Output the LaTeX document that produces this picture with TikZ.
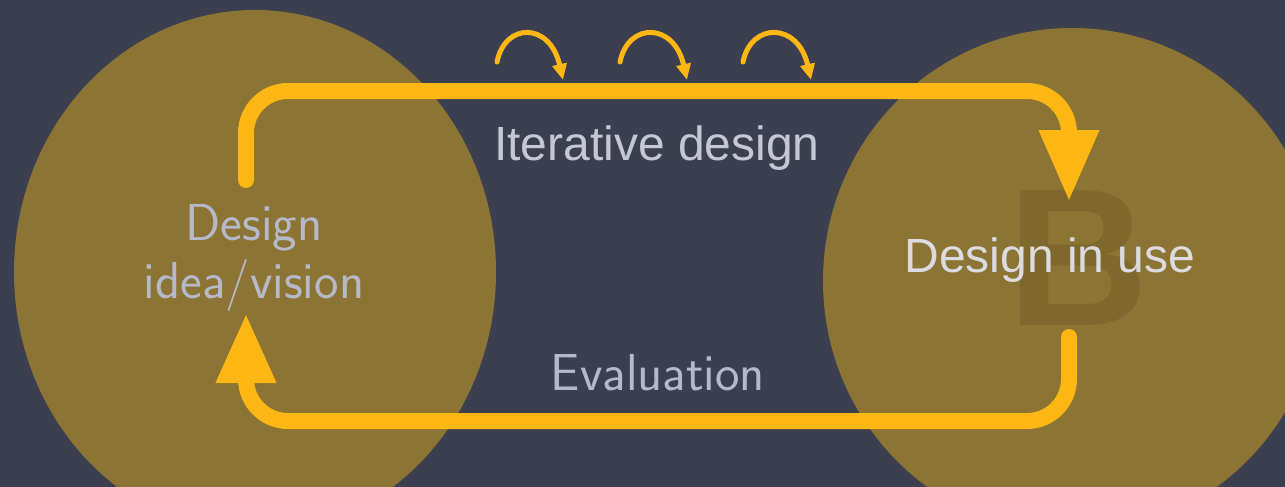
\documentclass[tikz,border=0pt]{standalone}
\usepackage{fontspec}
\usetikzlibrary{arrows.meta}
\newfontfamily\arialfont{Liberation Sans}
\definecolor{slate}{HTML}{3B3F4F}
\definecolor{circfill}{HTML}{8B7434}
\definecolor{wmark}{HTML}{7E682D}
\definecolor{gold}{HTML}{FCB714}
\definecolor{paletext}{HTML}{B6B9C9}
\definecolor{lighttext}{HTML}{DCDCE0}

\tikzset{
  loopline/.style={draw=gold, line width=16pt, line cap=round, rounded corners=42pt},
  hop/.style={draw=gold, line width=5pt, line cap=round, -{Triangle[length=16pt,width=14pt]}},
  thinlabel/.style={text=paletext, font=\sffamily\fontsize{52}{58}\selectfont, align=center, anchor=base, inner sep=0pt},
  boldlabel/.style={font=\arialfont\fontsize{48}{56}\selectfont, anchor=base, inner sep=0pt}
}

\begin{document}
\begin{tikzpicture}[x=1pt,y=-1pt]
  \useasboundingbox (0,0) rectangle (1285,487);
  \clip (0,0) rectangle (1285,487);
  \fill[slate] (0,0) rectangle (1285,487);

  % the two phases
  \fill[circfill] (255,272) ellipse [x radius=241, y radius=262];
  \fill[circfill] (1072,281) ellipse [x radius=249, y radius=253];
  \node[text=wmark, font=\arialfont\bfseries\fontsize{196}{196}\selectfont,
        anchor=base, inner sep=0pt] (mark) at (1078,325) {B};

  \coordinate (topstart) at (246,180);
  \coordinate (topright) at (1069,91);
  \coordinate (topend) at (1069,202);
  \coordinate (botstart) at (1069,337);
  \coordinate (botright) at (1069,421);
  \coordinate (botend) at (246,313);

  \draw[loopline, -{Triangle[length=72pt,width=56pt]}] (topstart) |- (topright) -- (topend);
  \draw[loopline, -{Triangle[length=70pt,width=56pt]}] (botstart) -- (botright) -| (botend);

  % small hops above the top line
  \foreach \i in {0,1,2}
  {
    \coordinate (hs\i) at (497+123*\i,62);
    \coordinate (he\i) at (563+124*\i,80);
    \draw[hop] (hs\i) .. controls +(8,-40) and +(-13,-58) .. (he\i);
  };

  \node[thinlabel] (idea) at (254,298) {Design\\idea/vision};
  \node[thinlabel] (eval) at (658,390) {Evaluation};
  \node[boldlabel, text=paletext!80!white] (iter) at (657,160) {Iterative design};
  \node[boldlabel, text=lighttext] (use) at (1050,272) {Design in use};
\end{tikzpicture}
\end{document}
